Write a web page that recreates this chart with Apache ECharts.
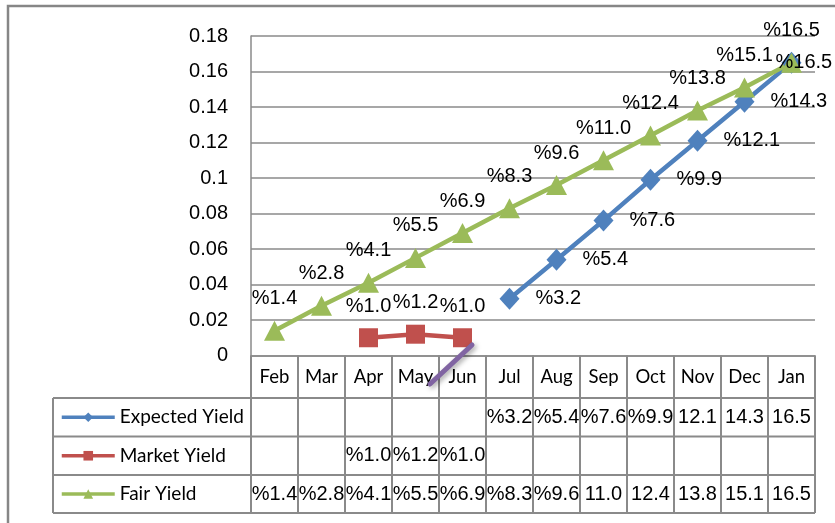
<!DOCTYPE html>
<html>
<head>
<meta charset="utf-8">
<script src="https://cdn.jsdelivr.net/npm/echarts@6/dist/echarts.min.js"></script>
<style>
  html, body { margin: 0; padding: 0; background: #fff; }
  #chart { width: 835px; height: 523px; }
</style>
</head>
<body>
<div id="chart"></div>
<script>
// ---- data ----
const months = ['Feb', 'Mar', 'Apr', 'May', 'Jun', 'Jul', 'Aug', 'Sep', 'Oct', 'Nov', 'Dec', 'Jan'];
const expectedYield = [null, null, null, null, null, 0.032, 0.054, 0.076, 0.099, 0.121, 0.143, 0.165];
const marketYield   = [null, null, 0.010, 0.012, 0.010, null, null, null, null, null, null, null];
const fairYield     = [0.014, 0.028, 0.041, 0.055, 0.069, 0.083, 0.096, 0.110, 0.124, 0.138, 0.151, 0.165];
const yTicks = { min: 0, max: 0.18, interval: 0.02 };

// ---- layout ----
const PLOT_LEFT = 251, PLOT_RIGHT = 815, PLOT_TOP = 36, AXIS_Y = 355.5;
const ROW_LINES = [398, 436.5, 475, 513];
const TABLE_LEFT = 53;
const GRID_COLOR = '#8a8a8a';
const NUM_FONT = 'Liberation Sans, Arial, sans-serif';
const TXT_FONT = 'Lato, Noto Sans, sans-serif';

const COLORS = { exp: '#4F81BD', mkt: '#C0504D', fair: '#9BBB59' };

const pct = v => '%' + (v * 100).toFixed(1);
// data-table cell text: the narrow cells can't hold the sign on 2-digit values
const cell = v => {
  if (v == null) return '';
  const s = pct(v);
  return s.length > 4 ? s.slice(1) : s;
};

const rowCenter = i => (ROW_LINES[i] + ROW_LINES[i + 1]) / 2;

function tableAxis(values, row) {
  return {
    type: 'category',
    data: values.map(cell),
    position: 'bottom',
    offset: rowCenter(row) - AXIS_Y,
    axisLine: { show: false },
    axisTick: { show: false },
    splitLine: { show: false },
    axisLabel: {
      interval: 0, margin: 0, verticalAlign: 'middle',
      color: '#000', fontFamily: NUM_FONT, fontSize: 20
    }
  };
}

function legendRow(name, row) {
  return {
    data: [name],
    left: TABLE_LEFT + 7,
    top: rowCenter(row) - 9.5,
    padding: 0,
    itemWidth: 53,
    itemHeight: 12,
    selectedMode: false,
    lineStyle: { width: 3.5 },
    textStyle: { color: '#000', fontFamily: TXT_FONT, fontSize: 19, lineHeight: 19 }
  };
}

// last expected point sits at the right edge: keep its label inside the frame
const lastIdx = expectedYield.length - 1;
const expectedData = expectedYield.map((v, i) =>
  i === lastIdx
    ? { value: v, label: { position: [-6, 11], align: 'left', verticalAlign: 'middle' } }
    : v);

const labelBase = {
  show: true, color: '#000', fontFamily: NUM_FONT, fontSize: 20,
  formatter: p => pct(p.value)
};

const tableLines = ROW_LINES.map(y => ({
  type: 'line', silent: true,
  shape: { x1: TABLE_LEFT, y1: y, x2: PLOT_RIGHT, y2: y },
  style: { stroke: GRID_COLOR, lineWidth: 2 }
}));

const option = {
  backgroundColor: '#fff',
  animation: false,
  grid: { left: PLOT_LEFT, right: 835 - PLOT_RIGHT, top: PLOT_TOP, bottom: 523 - AXIS_Y },
  legend: [
    legendRow('Expected Yield', 0),
    legendRow('Market Yield', 1),
    legendRow('Fair Yield', 2)
  ],
  xAxis: [
    {
      type: 'category',
      data: months,
      boundaryGap: true,
      axisLine: { show: true, lineStyle: { color: GRID_COLOR, width: 1.5 } },
      axisTick: { show: true, interval: 0, length: ROW_LINES[3] - AXIS_Y, lineStyle: { color: GRID_COLOR, width: 2 } },
      axisLabel: {
        interval: 0, margin: 22, verticalAlign: 'middle',
        color: '#000', fontFamily: TXT_FONT, fontSize: 18.5
      },
      splitLine: { show: false }
    },
    tableAxis(expectedYield, 0),
    tableAxis(marketYield, 1),
    tableAxis(fairYield, 2)
  ],
  yAxis: {
    type: 'value',
    min: yTicks.min, max: yTicks.max, interval: yTicks.interval,
    axisLine: { show: true, lineStyle: { color: GRID_COLOR, width: 1.5 } },
    axisTick: { show: false },
    splitLine: { lineStyle: { color: GRID_COLOR, width: 1.5 } },
    axisLabel: {
      margin: 23, color: '#000', fontFamily: NUM_FONT, fontSize: 20,
      formatter: v => String(+v.toFixed(2))
    }
  },
  series: [
    {
      name: 'Expected Yield', type: 'line', data: expectedData,
      symbol: 'diamond', symbolSize: [20, 22],
      lineStyle: { color: COLORS.exp, width: 4.5 },
      itemStyle: { color: COLORS.exp },
      label: Object.assign({}, labelBase, { position: 'right', distance: 16 })
    },
    {
      name: 'Market Yield', type: 'line', data: marketYield,
      symbol: 'rect', symbolSize: 19,
      lineStyle: { color: COLORS.mkt, width: 4.5 },
      itemStyle: { color: COLORS.mkt },
      label: Object.assign({}, labelBase, { position: 'top', distance: 12 })
    },
    {
      name: 'Fair Yield', type: 'line', data: fairYield,
      symbol: 'triangle', symbolSize: [21, 20],
      lineStyle: { color: COLORS.fair, width: 4.5 },
      itemStyle: { color: COLORS.fair },
      label: Object.assign({}, labelBase, { position: 'top', distance: 12 })
    }
  ],
  graphic: [
    // outer chart frame
    { type: 'rect', silent: true, shape: { x: 8, y: 6, width: 850, height: 540 },
      style: { fill: 'none', stroke: '#868686', lineWidth: 2.5 } },
    // data-table frame
    ...tableLines,
    { type: 'line', silent: true,
      shape: { x1: TABLE_LEFT, y1: ROW_LINES[0], x2: TABLE_LEFT, y2: ROW_LINES[3] },
      style: { stroke: GRID_COLOR, lineWidth: 2 } },
    // hand-drawn purple stroke
    { type: 'line', silent: true, z: 100,
      shape: { x1: 430, y1: 384, x2: 472, y2: 345 },
      style: { stroke: '#8064A2', lineWidth: 5, lineCap: 'round',
               shadowBlur: 5, shadowColor: 'rgba(0,0,0,0.35)', shadowOffsetX: 2, shadowOffsetY: 2 } }
  ]
};

const chart = echarts.init(document.getElementById('chart'), null, { renderer: 'canvas' });
chart.setOption(option);
</script>
</body>
</html>
